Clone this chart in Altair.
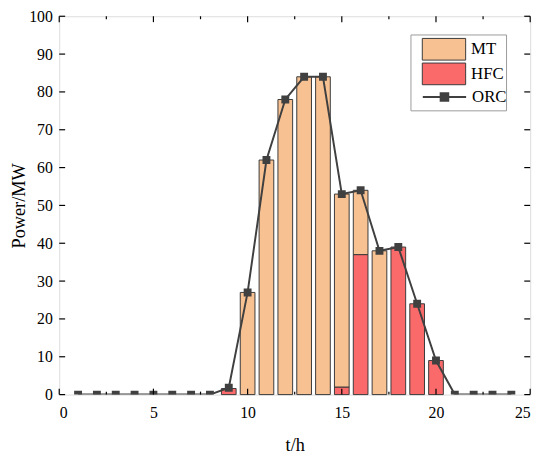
import altair as alt
import pandas as pd

# ---- data ----
hours = list(range(1, 25))
mt  = [0, 0, 0, 0, 0, 0, 0, 0, 0,   27, 62, 78, 84, 84, 51, 17, 38, 0,  0,  0, 0, 0, 0, 0]
hfc = [0, 0, 0, 0, 0, 0, 0, 0, 1.6, 0,  0,  0,  0,  0,  2,  37, 0,  39, 24, 9, 0, 0, 0, 0]
orc = [0, 0, 0, 0, 0, 0, 0, 0, 1.8, 27, 62, 78, 84, 84, 53, 54, 38, 39, 24, 9, 0, 0, 0, 0]

bar_names = ["MT", "HFC"]
bar_colors = ["#F8C191", "#FA6A6A"]
line_name = "ORC"
line_color = "#404040"

x_major = [0, 5, 10, 15, 20, 25]
x_minor = [2.5, 7.5, 12.5, 17.5, 22.5]
y_major = list(range(0, 101, 10))

FONT = "Liberation Serif"
W, H = 478, 384
LX, LY = 357, 19

# ---- tables ----
rows = []
for h, m, f in zip(hours, mt, hfc):
    if f > 0:
        rows.append({"hour": h, "series": "HFC", "y0": 0, "y1": f})
    if m > 0:
        rows.append({"hour": h, "series": "MT", "y0": f, "y1": f + m})
bars_df = pd.DataFrame(rows)
orc_df = pd.DataFrame({"hour": hours, "orc": orc})
xmaj_df = pd.DataFrame({"v": x_major})
xmin_df = pd.DataFrame({"v": x_minor})
ymaj_df = pd.DataFrame({"v": y_major})
one_df = pd.DataFrame({"a": [0]})

xscale = alt.Scale(domain=[0, 25], nice=False, zero=False)
yscale = alt.Scale(domain=[0, 100], nice=False)

xaxis = alt.Axis(values=x_major, title="t/h", ticks=False, domain=False, grid=False,
                 labelFont=FONT, labelFontSize=16, labelColor="black", labelPadding=10,
                 labelOverlap=False,
                 titleFont=FONT, titleFontSize=18.5, titleFontWeight="normal",
                 titleColor="black", titlePadding=16)
yaxis = alt.Axis(values=y_major, title="Power/MW", ticks=False, domain=False, grid=False,
                 labelFont=FONT, labelFontSize=16, labelColor="black", labelPadding=7,
                 labelOverlap=False,
                 titleFont=FONT, titleFontSize=18.5, titleFontWeight="normal",
                 titleColor="black", titlePadding=0)


def X(field):
    return alt.X(field, scale=xscale, axis=xaxis, title="t/h")


def Y(field):
    return alt.Y(field, scale=yscale, axis=yaxis, title="Power/MW")


common_legend = dict(
    title=None, orient="none", legendX=LX + 7,
    symbolSize=484, labelOffset=27, labelFont=FONT, labelFontSize=17,
    labelColor="black", rowPadding=-4, padding=4,
)

bars = alt.Chart(bars_df).transform_calculate(
    x0="datum.hour - 0.39", x1="datum.hour + 0.39"
).mark_bar(stroke="#3a3a3a", strokeWidth=1, opacity=1).encode(
    x=X("x0:Q"),
    x2="x1:Q",
    y=Y("y0:Q"),
    y2="y1:Q",
    color=alt.Color("series:N", scale=alt.Scale(domain=bar_names, range=bar_colors),
                    legend=alt.Legend(symbolType="M-1,-1H3V1H-1Z",
                                      symbolStrokeColor="#3a3a3a", symbolStrokeWidth=1,
                                      symbolOpacity=1, legendY=LY - 1, **common_legend)),
)

line = alt.Chart(orc_df).transform_calculate(name="'ORC'").mark_line(strokeWidth=2, clip=True).encode(
    x=X("hour:Q"),
    y=Y("orc:Q"),
    stroke=alt.Stroke("name:N", scale=alt.Scale(domain=[line_name], range=[line_color]),
                      legend=alt.Legend(symbolType="M-1,0H3M0.65,-0.35H1.35V0.35H0.65Z",
                                        symbolFillColor=line_color, symbolStrokeWidth=2,
                                        symbolOpacity=1, legendY=LY + 47, **common_legend)),
)

pts = alt.Chart(orc_df).mark_square(size=64, opacity=1, clip=True, color=line_color).encode(
    x=X("hour:Q"),
    y=Y("orc:Q"),
)

frame = alt.Chart(one_df).mark_rect(fill="white", stroke="#9a9a9a", strokeWidth=1).encode(
    x=alt.value(LX), x2=alt.value(LX + 97), y=alt.value(LY), y2=alt.value(LY + 77))

tick_style = dict(color="black", strokeWidth=1.2)
yl = alt.Chart(ymaj_df).mark_rule(**tick_style).encode(
    x=alt.value(0), x2=alt.value(6), y=Y("v:Q"))
yr = alt.Chart(ymaj_df).mark_rule(**tick_style).encode(
    x=alt.value(W), x2=alt.value(W - 6), y=Y("v:Q"))
xb = alt.Chart(xmaj_df).mark_rule(**tick_style).encode(
    y=alt.value(H), y2=alt.value(H - 6), x=X("v:Q"))
xbm = alt.Chart(xmin_df).mark_rule(**tick_style).encode(
    y=alt.value(H), y2=alt.value(H - 3), x=X("v:Q"))
xt = alt.Chart(xmaj_df).mark_rule(**tick_style).encode(
    y=alt.value(0), y2=alt.value(6), x=X("v:Q"))
xtm = alt.Chart(xmin_df).mark_rule(**tick_style).encode(
    y=alt.value(0), y2=alt.value(3), x=X("v:Q"))

chart = alt.layer(bars, line, pts, yl, yr, xb, xbm, xt, xtm, frame).properties(
    width=W, height=H,
    autosize=alt.AutoSizeParams(type="none"),
    padding={"left": 52, "top": 5, "right": 12, "bottom": 62},
).resolve_legend(color="independent", stroke="independent").configure_view(
    stroke="black", strokeWidth=1.5
).configure(background="white")

chart.save("out.html", embed_options={"renderer": "svg", "actions": False})
